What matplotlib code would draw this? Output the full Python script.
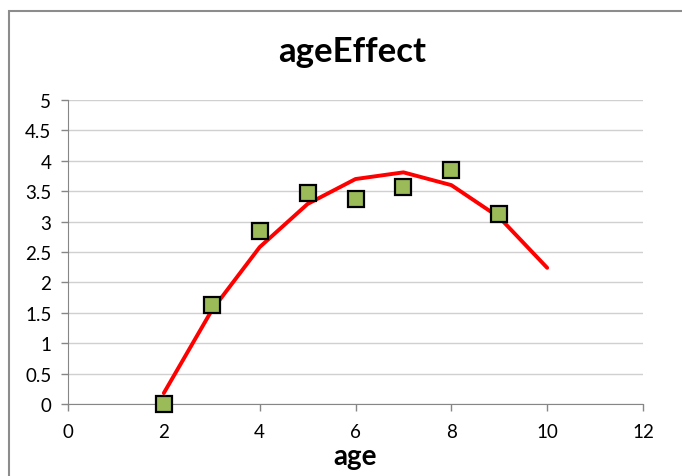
import matplotlib
matplotlib.use("Agg")
import matplotlib.pyplot as plt
from matplotlib.patches import Rectangle

# data
age_points = [2, 3, 4, 5, 6, 7, 8, 9]
effect_points = [0.0, 1.63, 2.85, 3.47, 3.37, 3.57, 3.85, 3.13]

age_fit = [2, 3, 4, 5, 6, 7, 8, 9, 10]
effect_fit = [0.18, 1.54, 2.58, 3.29, 3.70, 3.81, 3.60, 3.07, 2.24]

x_ticks = [0, 2, 4, 6, 8, 10, 12]
y_ticks = [0, 0.5, 1, 1.5, 2, 2.5, 3, 3.5, 4, 4.5, 5]

plt.rcParams['font.family'] = ['Lato', 'DejaVu Sans']

fig = plt.figure(figsize=(6.82, 4.77), dpi=100)
ax = fig.add_axes([68/682, 1 - 405/477, (643 - 68)/682, (405 - 101)/477])

# outer chart border
fig.patches.append(Rectangle((9/682, -0.1), 1.1, 1 - 12/477 + 0.1, transform=fig.transFigure,
                             fill=False, edgecolor='#8c8c8c', linewidth=1.5))

ax.plot(age_fit, effect_fit, color='#ff0000', linewidth=2.8, zorder=3, solid_capstyle='round')
ax.plot(age_points, effect_points, linestyle='none', marker='s', markersize=11,
        markerfacecolor='#9bbb59', markeredgecolor='black', markeredgewidth=1.6, zorder=4,
        clip_on=False)

ax.set_xlim(0, 12)
ax.set_ylim(0, 5)
ax.set_xticks(x_ticks)
ax.set_yticks(y_ticks)
ax.set_yticklabels(['0', '0.5', '1', '1.5', '2', '2.5', '3', '3.5', '4', '4.5', '5'])
ax.tick_params(labelsize=13.5, colors='#868686', labelcolor='black', length=5, width=1)
ax.tick_params(axis='x', pad=9)
ax.tick_params(axis='y', pad=7)

ax.grid(axis='y', color='#d0d0d0', linewidth=1)
ax.set_axisbelow(True)
for side in ['top', 'right']:
    ax.spines[side].set_visible(False)
for side in ['left', 'bottom']:
    ax.spines[side].set_color('#868686')

ax.set_xlabel('age', fontsize=20, fontweight='bold', labelpad=2)
fig.text(352/682, 1 - 52/477, 'ageEffect', ha='center', va='center', fontsize=25, fontweight='bold')

fig.savefig('out.png', dpi=100)
